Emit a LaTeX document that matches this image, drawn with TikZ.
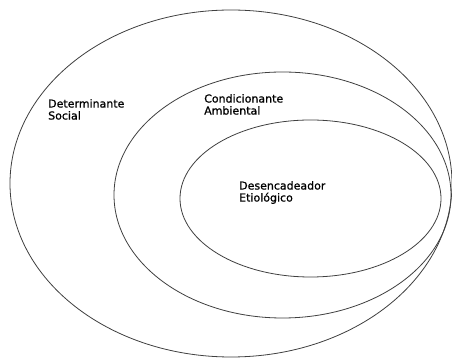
\documentclass[tikz,border=0pt]{standalone}
\usepackage{fontspec}
\setmainfont{DejaVu Sans}
\newfontfamily\lblfont[FakeBold=0.8]{DejaVu Sans}
\tikzset{ring/.style={draw=black!75,line width=0.8pt},
  lbl/.style={anchor=north west,inner sep=0pt,align=left,font=\lblfont\fontsize{11}{12}\selectfont}}
\begin{document}
\begin{tikzpicture}[x=1pt,y=1pt,line join=round, line cap=round]
	\useasboundingbox (0,0) rectangle (452,358);
	\clip (0,0) rectangle (452,358);
	\fill[white] (0,0) rectangle (452,358);
	\coordinate (S) at (231,174.5);
	\coordinate (A) at (282.5,163);
	\coordinate (E) at (310.5,159.5);
	\draw[ring] (S) ellipse [x radius=221, y radius=173.5];
	\draw[ring] (A) ellipse [x radius=168.5, y radius=123];
	\draw[ring] (E) ellipse [x radius=130.5, y radius=78.5];
	\node[lbl] (social) at (48,259) {Determinante\\Social};
	\node[lbl] (ambiental) at (204,264) {Condicionante\\Ambiental};
	\node[lbl] (etiologico) at (239,177) {Desencadeador\\Etiológico};
\end{tikzpicture}
\end{document}
